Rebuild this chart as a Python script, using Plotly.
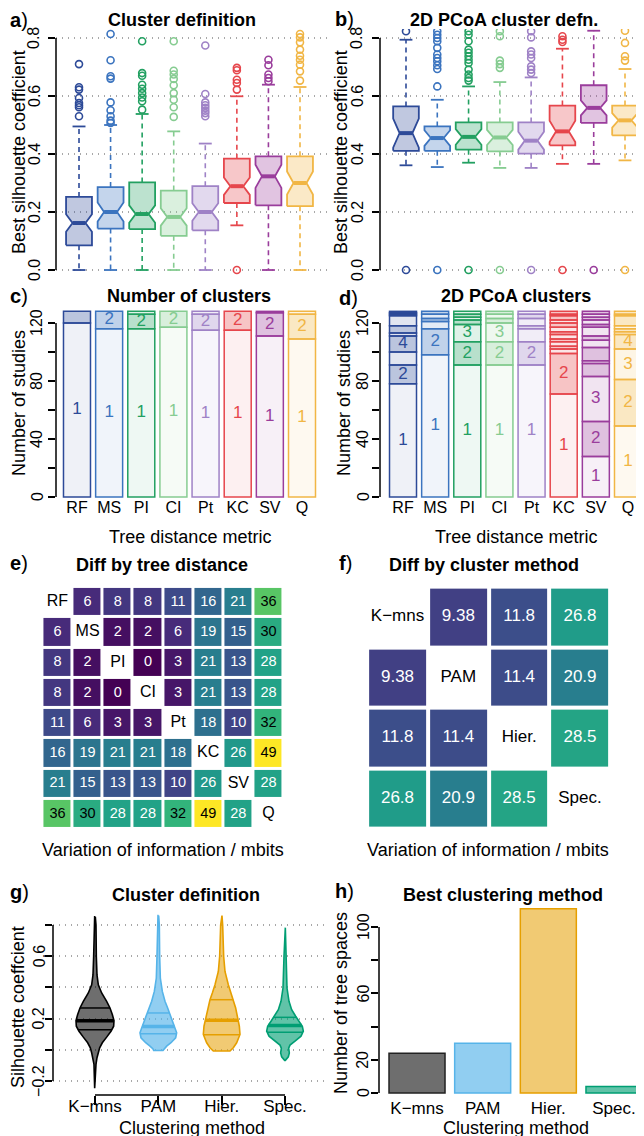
import plotly.graph_objects as go
import numpy as np

W, H = 644, 1136
FONT = "Liberation Sans"

# ---------------- data ----------------
metrics = ["RF", "MS", "PI", "CI", "Pt", "KC", "SV", "Q"]
metric_colors = ["#2D4A98", "#3B74BF", "#22A061", "#86CC91",
                 "#9F82C6", "#E6464C", "#9A3D9C", "#F1B645"]

# a) Cluster definition (boxplot stats)
a_upper = [0.495, 0.500, 0.538, 0.478, 0.436, 0.599, 0.639, 0.631]
a_q3 = [0.252, 0.286, 0.302, 0.274, 0.289, 0.384, 0.392, 0.392]
a_median = [0.162, 0.200, 0.193, 0.183, 0.200, 0.289, 0.323, 0.300]
a_q1 = [0.085, 0.143, 0.141, 0.118, 0.137, 0.231, 0.223, 0.220]
a_lower = [0.0, 0.0, 0.0, 0.0, 0.0, 0.154, 0.0, 0.0]
a_notch = [0.030, 0.033, 0.030, 0.030, 0.030, 0.030, 0.040, 0.040]
a_outliers = [
    [0.710, 0.630, 0.622, 0.593, 0.576, 0.568, 0.561, 0.530],
    [0.814, 0.723, 0.668, 0.660, 0.578, 0.551, 0.530, 0.515, 0.507],
    [0.789, 0.679, 0.670, 0.639, 0.625, 0.610, 0.595, 0.582, 0.553],
    [0.789, 0.687, 0.674, 0.659, 0.637, 0.610, 0.587, 0.561, 0.528],
    [0.774, 0.607, 0.578, 0.568, 0.559, 0.549, 0.541, 0.530],
    [0.697, 0.689, 0.656, 0.645, 0.622, 0.0],
    [0.725, 0.706, 0.674, 0.662, 0.651],
    [0.814, 0.802, 0.785, 0.760, 0.739, 0.725, 0.708, 0.685, 0.653],
]

# b) 2D PCoA cluster defn.
b_upper = [0.794, 0.587, 0.633, 0.648, 0.664, 0.763, 0.825, 0.693]
b_q3 = [0.564, 0.495, 0.509, 0.509, 0.509, 0.567, 0.637, 0.567]
b_median = [0.472, 0.455, 0.459, 0.457, 0.446, 0.478, 0.559, 0.516]
b_q1 = [0.411, 0.411, 0.415, 0.409, 0.401, 0.430, 0.507, 0.464]
b_lower = [0.361, 0.355, 0.370, 0.352, 0.352, 0.366, 0.366, 0.378]
b_notch = [0.050, 0.027, 0.027, 0.026, 0.031, 0.037, 0.026, 0.025]
b_outliers = [
    [0.823, 0.0],
    [0.823, 0.811, 0.800, 0.789, 0.766, 0.743, 0.731, 0.720, 0.706, 0.693, 0.633, 0.0],
    [0.823, 0.811, 0.789, 0.760, 0.749, 0.737, 0.725, 0.714, 0.691, 0.674, 0.662, 0.653, 0.0],
    [0.823, 0.806, 0.722, 0.710, 0.697, 0.0],
    [0.823, 0.802, 0.754, 0.743, 0.731, 0.702, 0.691, 0.679, 0.0],
    [0.806, 0.794, 0.786, 0.0],
    [0.0],
    [0.825, 0.783, 0.737, 0.722, 0.0],
]

# c) Number of clusters: studies per number of clusters (k = 1, 2, ...)
c_RF = [120, 8]
c_MS = [116, 12]
c_PI = [116, 10, 2]
c_CI = [117, 11]
c_Pt = [115, 11, 2]
c_KC = [115, 13]
c_SV = [111, 16, 1]
c_Q = [109, 17, 2]

# d) 2D PCoA clusters
d_RF = [78, 13, 9, 11, 2, 5, 7, 1, 1, 1]
d_MS = [98, 18, 5, 2, 3, 2]
d_PI = [91, 16, 12, 3, 2, 2, 2]
d_CI = [91, 16, 13, 3, 3, 2]
d_Pt = [91, 16, 9, 2, 5, 3, 2]
d_KC = [71, 28, 3, 2, 3, 2, 3, 2, 3, 3, 2, 3, 1, 2]
d_SV = [28, 24, 31, 9, 2, 9, 5, 3, 6, 2, 3, 2, 2, 2]
d_Q = [49, 32, 21, 10, 2, 2, 2, 7, 1, 2]

# e) Diff by tree distance (VI, mbits)
vi_tree = [
    [None, 6, 8, 8, 11, 16, 21, 36],
    [6, None, 2, 2, 6, 19, 15, 30],
    [8, 2, None, 0, 3, 21, 13, 28],
    [8, 2, 0, None, 3, 21, 13, 28],
    [11, 6, 3, 3, None, 18, 10, 32],
    [16, 19, 21, 21, 18, None, 26, 49],
    [21, 15, 13, 13, 10, 26, None, 28],
    [36, 30, 28, 28, 32, 49, 28, None],
]

# f) Diff by cluster method
methods = ["K\u2212mns", "PAM", "Hier.", "Spec."]
vi_method = [
    [None, 9.38, 11.8, 26.8],
    [9.38, None, 11.4, 20.9],
    [11.8, 11.4, None, 28.5],
    [26.8, 20.9, 28.5, None],
]
method_colors = ["#000000", "#56B4E9", "#E69F00", "#009E73"]
method_alpha = [0.57, 0.65, 0.55, 0.62]

# g) violin outlines (silhouette value, relative density) and quartiles
vio_y_kmns = [0.853, 0.80, 0.60, 0.48, 0.417, 0.364, 0.311, 0.268, 0.226, 0.187, 0.151,
              0.119, 0.081, 0.045, 0.013, -0.019, -0.051, -0.094, -0.247]
vio_d_kmns = [1, 3, 4, 6, 10, 20, 35, 45, 52, 57, 56, 48, 35, 22, 14, 10, 6, 3, 1]
vio_y_pam = [0.86, 0.80, 0.60, 0.46, 0.374, 0.311, 0.268, 0.226, 0.183, 0.140, 0.109,
             0.077, 0.045, 0.023, 0.005, -0.005]
vio_d_pam = [1, 3, 4, 6, 12, 20, 28, 35, 42, 50, 55, 52, 38, 25, 16, 14]
vio_y_hier = [0.86, 0.80, 0.60, 0.502, 0.417, 0.364, 0.321, 0.268, 0.204, 0.151, 0.098,
              0.045, 0.013, -0.008]
vio_d_hier = [1, 3, 6, 10, 20, 28, 35, 42, 48, 53, 55, 45, 35, 25]
vio_y_spec = [0.783, 0.60, 0.396, 0.311, 0.257, 0.215, 0.183, 0.151, 0.119, 0.087, 0.055,
              0.030, 0.010, -0.020, -0.045, -0.060, -0.068]
vio_d_spec = [1, 3, 6, 12, 20, 32, 42, 52, 55, 48, 30, 15, 11, 13, 10, 5, 1]
vio_q1 = [0.129, 0.103, 0.097, 0.112]
vio_median = [0.186, 0.150, 0.190, 0.156]
vio_q3 = [0.268, 0.236, 0.321, 0.208]

# h) Best clustering method
best_counts = [24, 30, 111, 4]

# tick labels
sil_tickvals = [0, 0.2, 0.4, 0.6, 0.8]
sil_ticktext = ["0.0", "0.2", "0.4", "0.6", "0.8"]
cnt_tickvals = [0, 20, 40, 60, 80, 100, 120]
cnt_ticktext = ["0", "", "40", "", "80", "", "120"]
g_tickvals = [-0.2, 0, 0.2, 0.4, 0.6, 0.8]
g_ticktext = ["\u22120.2", "", "0.2", "", "0.6", ""]
h_tickvals = [0, 20, 40, 60, 80, 100]
h_ticktext = ["0", "20", "", "60", "", "100"]

# ---------------- helpers ----------------
def rgba(h, a):
    h = h.lstrip("#")
    r, g, b = int(h[0:2], 16), int(h[2:4], 16), int(h[4:6], 16)
    return f"rgba({r},{g},{b},{a})"

def px_x(l, r):
    return [l / W, r / W]

def px_y(t, b):
    return [1 - b / H, 1 - t / H]

fig = go.Figure()

BOX_HW = 0.41
WHISK_DASH = "5px,4px"

def add_boxes(xa, ya, upper, q3, med, q1, lower, notch, outliers):
    for i, col in enumerate(metric_colors):
        x = i + 1
        w = BOX_HW
        n = notch[i]
        xs = [x - w, x - w, x - w / 2, x - w, x - w, x + w, x + w, x + w / 2, x + w, x + w, x - w]
        ys = [q1[i], med[i] - n, med[i], med[i] + n, q3[i], q3[i], med[i] + n, med[i],
              med[i] - n, q1[i], q1[i]]
        common = dict(xaxis=xa, yaxis=ya, hoverinfo="skip", showlegend=False)
        fig.add_trace(go.Scatter(x=[x, x, None, x, x], y=[q3[i], upper[i], None, q1[i], lower[i]],
                                 mode="lines", line=dict(color=col, width=1.6, dash=WHISK_DASH), **common))
        fig.add_trace(go.Scatter(x=[x - w / 2, x + w / 2, None, x - w / 2, x + w / 2],
                                 y=[upper[i], upper[i], None, lower[i], lower[i]],
                                 mode="lines", line=dict(color=col, width=1.8), **common))
        fig.add_trace(go.Scatter(x=xs, y=ys, fill="toself", fillcolor=rgba(col, 0.3), mode="lines",
                                 line=dict(color=col, width=1.8), **common))
        fig.add_trace(go.Scatter(x=[x - w / 2, x + w / 2], y=[med[i], med[i]], mode="lines",
                                 line=dict(color=col, width=4), **common))
        fig.add_trace(go.Scatter(x=[x] * len(outliers[i]), y=outliers[i], mode="markers",
                                 marker=dict(symbol="circle-open", size=7, color=col,
                                             line=dict(width=1.6, color=col)), **common))

add_boxes("x", "y", a_upper, a_q3, a_median, a_q1, a_lower, a_notch, a_outliers)
add_boxes("x2", "y2", b_upper, b_q3, b_median, b_q1, b_lower, b_notch, b_outliers)

BAR_W = 0.84

def add_stack(xa, ya, counts_list):
    for i, counts in enumerate(counts_list):
        col = metric_colors[i]
        bases, fills = [], []
        base = 0
        lx, ly, lt = [], [], []
        for k, c in enumerate(counts):
            bases.append(base)
            if k == 0:
                a = 0.08
            elif k % 2 == 1:
                a = 0.32
            else:
                a = 0.14
            fills.append(rgba(col, a))
            if c >= 10:
                lx.append(i + 1)
                ly.append(base + c / 2)
                lt.append(str(k + 1))
            base += c
        fig.add_trace(go.Bar(x=[i + 1] * len(counts), y=counts, base=bases, width=BAR_W,
                             marker=dict(color=fills, line=dict(color=col, width=1.5)),
                             xaxis=xa, yaxis=ya, hoverinfo="skip", showlegend=False))
        fig.add_trace(go.Scatter(x=lx, y=ly, text=lt, mode="text",
                                 textfont=dict(family=FONT, size=17, color=col),
                                 xaxis=xa, yaxis=ya, hoverinfo="skip", showlegend=False))

add_stack("x3", "y3", [c_RF, c_MS, c_PI, c_CI, c_Pt, c_KC, c_SV, c_Q])
add_stack("x4", "y4", [d_RF, d_MS, d_PI, d_CI, d_Pt, d_KC, d_SV, d_Q])

# heatmaps
def add_heat(xa, ya, z, labels, fmt, thresh, size_num, size_lab, gap):
    n = len(labels)
    fig.add_trace(go.Heatmap(z=z, x=list(range(n)), y=list(range(n)), colorscale="Viridis",
                             zmin=0, zmax=49, xgap=gap, ygap=gap, showscale=False,
                             xaxis=xa, yaxis=ya, hoverinfo="skip"))
    wx, wy, wt, bx, by, bt = [], [], [], [], [], []
    for r in range(n):
        for c in range(n):
            v = z[r][c]
            if v is None:
                continue
            if v < thresh:
                wx.append(c); wy.append(r); wt.append(fmt(v))
            else:
                bx.append(c); by.append(r); bt.append(fmt(v))
    fig.add_trace(go.Scatter(x=wx, y=wy, text=wt, mode="text",
                             textfont=dict(family=FONT, size=size_num, color="white"),
                             xaxis=xa, yaxis=ya, hoverinfo="skip", showlegend=False))
    fig.add_trace(go.Scatter(x=bx, y=by, text=bt, mode="text",
                             textfont=dict(family=FONT, size=size_num, color="black"),
                             xaxis=xa, yaxis=ya, hoverinfo="skip", showlegend=False))
    fig.add_trace(go.Scatter(x=list(range(n)), y=list(range(n)), text=labels, mode="text",
                             textfont=dict(family=FONT, size=size_lab, color="black"),
                             xaxis=xa, yaxis=ya, hoverinfo="skip", showlegend=False))

add_heat("x5", "y5", vi_tree, metrics, lambda v: str(int(v)), 29, 14.5, 16, 3)
add_heat("x6", "y6", vi_method, methods, lambda v: "{:.3g}".format(v), 99, 17, 17, 4)

# violins
VIO_SCALE = 1 / 190.0
vio_ys = [vio_y_kmns, vio_y_pam, vio_y_hier, vio_y_spec]
vio_ds = [vio_d_kmns, vio_d_pam, vio_d_hier, vio_d_spec]
for j in range(4):
    ys = np.array(vio_ys[j], dtype=float)
    ds = np.array(vio_ds[j], dtype=float) * VIO_SCALE
    cx = j + 1
    col = method_colors[j]
    xs = list(cx + ds) + list(cx - ds[::-1]) + [cx + ds[0]]
    yy = list(ys) + list(ys[::-1]) + [ys[0]]
    fig.add_trace(go.Scatter(x=xs, y=yy, fill="toself", fillcolor=rgba(col, method_alpha[j]),
                             mode="lines", line=dict(color=col, width=1.6),
                             xaxis="x7", yaxis="y7", hoverinfo="skip", showlegend=False))
    for q, lw in [(vio_q1[j], 1.5), (vio_median[j], 3.5), (vio_q3[j], 1.5)]:
        hw = float(np.interp(q, ys[::-1], ds[::-1]))
        fig.add_trace(go.Scatter(x=[cx - hw, cx + hw], y=[q, q], mode="lines",
                                 line=dict(color=col, width=lw),
                                 xaxis="x7", yaxis="y7", hoverinfo="skip", showlegend=False))

# h bars
fig.add_trace(go.Bar(x=[1, 2, 3, 4], y=best_counts, width=0.853,
                     marker=dict(color=[rgba(c, a) for c, a in zip(method_colors, method_alpha)],
                                 line=dict(color=["#222222", "#56B4E9", "#E69F00", "#009E73"], width=1.5)),
                     xaxis="x8", yaxis="y8", hoverinfo="skip", showlegend=False))

# ---------------- axes ----------------
GRID = dict(showgrid=True, gridcolor="#a8a8a8", griddash="1px,5px", gridwidth=1.5)

def xax(dom, rng, **kw):
    d = dict(domain=px_x(*dom), range=rng, showgrid=False, zeroline=False, showline=False,
             ticks="", showticklabels=False, fixedrange=True)
    d.update(kw)
    return d

def yax(dom, rng, tickvals, **kw):
    d = dict(domain=px_y(*dom), range=rng, showgrid=False, zeroline=False, showline=False,
             ticks="outside", ticklen=7, tickwidth=1.5, tickcolor="black",
             tickmode="array", tickvals=tickvals, showticklabels=False, fixedrange=True)
    d.update(kw)
    return d

cat_x = dict(showticklabels=True, tickfont=dict(family=FONT, size=16, color="black"),
             tickmode="array", tickvals=list(range(1, 9)), ticktext=metrics, ticklabelstandoff=-6)
meth_x = dict(showticklabels=True, tickfont=dict(family=FONT, size=17, color="black"),
              tickmode="array", tickvals=[1, 2, 3, 4], ticktext=methods)

layout_axes = dict(
    xaxis=xax((48, 320), [0.271, 8.887], anchor="y"),
    yaxis=yax((21, 271), [-0.031, 0.831], sil_tickvals, anchor="x", **GRID),
    xaxis2=xax((372, 644), [0.169, 8.863], anchor="y2"),
    yaxis2=yax((21, 271), [-0.031, 0.831], sil_tickvals, anchor="x2", **GRID),
    xaxis3=xax((48, 320), [0.347, 8.809], anchor="y3", **cat_x),
    yaxis3=yax((300, 494), [-3.45, 130.3], cnt_tickvals, anchor="x3"),
    xaxis4=xax((372, 644), [0.284, 8.747], anchor="y4", **cat_x),
    yaxis4=yax((300, 494), [-3.45, 130.3], cnt_tickvals, anchor="x4"),
    xaxis5=xax((34.4, 275.6), [-0.5, 7.5], anchor="y5"),
    yaxis5=yax((578.9, 821.2), [7.5, -0.5], [], anchor="x5", ticks=""),
    xaxis6=xax((359.1, 602.4), [-0.5, 3.5], anchor="y6"),
    yaxis6=yax((578.6, 820.9), [3.5, -0.5], [], anchor="x6", ticks=""),
    xaxis7=xax((45, 320), [0.337, 4.679], anchor="y7", ticks="outside", ticklen=9, tickwidth=1.5,
               tickcolor="black", ticklabelstandoff=-13, **meth_x),
    yaxis7=yax((905, 1087), [-0.29, 0.877], g_tickvals, anchor="x7", **GRID),
    xaxis8=xax((371, 644), [0.421, 4.579], anchor="y8", ticklabelstandoff=-4, **meth_x),
    yaxis8=yax((893, 1092), [-4.2, 115.7], h_tickvals, anchor="x8"),
)

# axis lines (R style: drawn from first to last tick)
shapes = []
def vline(xpx, yref, y0, y1):
    shapes.append(dict(type="line", xref="paper", yref=yref, x0=xpx / W, x1=xpx / W, y0=y0, y1=y1,
                       line=dict(color="black", width=1.5)))
vline(48, "y", 0, 0.8)
vline(372, "y2", 0, 0.8)
vline(48, "y3", 0, 120)
vline(372, "y4", 0, 120)
vline(45, "y7", -0.2, 0.8)
vline(371, "y8", 0, 100)
shapes.append(dict(type="line", xref="x7", yref="paper", x0=1, x1=4, y0=1 - 1087 / H, y1=1 - 1087 / H,
                   line=dict(color="black", width=1.5)))

# ---------------- annotations ----------------
annotations = []
def ann(text, x, y, size, angle=0, xanchor="center"):
    annotations.append(dict(x=x / W, y=1 - y / H, xref="paper", yref="paper", text=text,
                            showarrow=False, textangle=angle, xanchor=xanchor, yanchor="middle",
                            font=dict(family=FONT, size=size, color="black")))

# rotated y tick labels (R las=0 style), placed on the axis scale
def ytick_labels(xpx, yref, vals, texts):
    for v, t in zip(vals, texts):
        if not t:
            continue
        annotations.append(dict(x=xpx / W, y=v, xref="paper", yref=yref, text=t, showarrow=False,
                                textangle=-90, xanchor="center", yanchor="middle",
                                font=dict(family=FONT, size=16, color="black")))

ytick_labels(26, "y", sil_tickvals, sil_ticktext)
ytick_labels(349, "y2", sil_tickvals, sil_ticktext)
ytick_labels(29, "y3", cnt_tickvals, cnt_ticktext)
ytick_labels(355, "y4", cnt_tickvals, cnt_ticktext)
ytick_labels(31, "y7", g_tickvals, g_ticktext)
ytick_labels(355, "y8", h_tickvals, h_ticktext)

for lab, x, y in [("a", 0, 12), ("b", 325, 11), ("c", 0, 288), ("d", 329, 290),
                  ("e", 0, 555), ("f", 329, 555), ("g", 0, 884), ("h", 325, 883)]:
    ann(f"<b>{lab}</b>)", x, y, 20, xanchor="left")

ann("<b>Cluster definition</b>", 174, 12, 18)
ann("<b>2D PCoA cluster defn.</b>", 496, 12, 18)
ann("<b>Number of clusters</b>", 181, 288, 18)
ann("<b>2D PCoA clusters</b>", 508, 288, 18)
ann("<b>Diff by tree distance</b>", 154, 557, 18)
ann("<b>Diff by cluster method</b>", 476, 557, 18)
ann("<b>Cluster definition</b>", 178, 887, 18)
ann("<b>Best clustering method</b>", 495, 887, 18)

ann("Best silhouette coefficient", 11, 144, 18, angle=-90)
ann("Best silhouette coefficient", 333, 144, 18, angle=-90)
ann("Number of studies", 11, 395, 18, angle=-90)
ann("Number of studies", 336, 395, 18, angle=-90)
ann("Silhouette coeffcient", 10, 999, 18, angle=-90)
ann("Number of tree spaces", 333, 995, 18, angle=-90)

ann("Tree distance metric", 182, 529, 18)
ann("Tree distance metric", 508, 529, 18)
ann("Variation of information / mbits", 155, 842, 18)
ann("Variation of information / mbits", 480, 842, 18)
ann("Clustering method", 184, 1120, 18)
ann("Clustering method", 508, 1120, 18)

fig.update_layout(
    width=W, height=H, margin=dict(l=0, r=0, t=0, b=0),
    paper_bgcolor="white", plot_bgcolor="white", showlegend=False,
    barmode="overlay", font=dict(family=FONT, color="black"),
    shapes=shapes, annotations=annotations, **layout_axes,
)

fig.write_html("out.html")
